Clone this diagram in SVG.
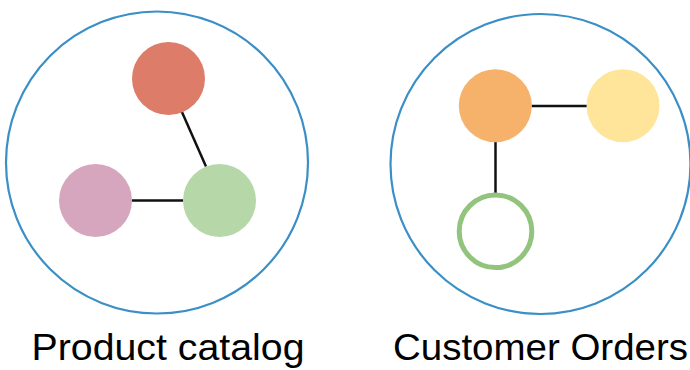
<svg xmlns="http://www.w3.org/2000/svg" width="690" height="370" viewBox="0 0 690 370">
<style>
.boundary{fill:none;stroke:#3a8fc7;stroke-width:2.2}
.edge{stroke:#111;stroke-width:2.5;fill:none}
.lbl{font-family:"Liberation Sans",Arial,sans-serif;font-size:37px;fill:#000}
</style>
<rect width="690" height="370" fill="#fff"/>
<g id="product-catalog">
<circle class="boundary" cx="157" cy="162.5" r="151"/>
<text class="lbl" x="31.5" y="360" textLength="273" lengthAdjust="spacingAndGlyphs">Product catalog</text>
</g>
<g id="customer-orders">
<circle class="boundary" cx="540.5" cy="164" r="150"/>
<text class="lbl" x="393" y="360" textLength="295" lengthAdjust="spacingAndGlyphs">Customer Orders</text>
</g>
<g id="connectors">
<line class="edge" x1="181.5" y1="111" x2="206" y2="166.5"/>
<line class="edge" x1="132" y1="200.5" x2="183" y2="200.5"/>
<line class="edge" x1="531.5" y1="106" x2="587" y2="106"/>
<line class="edge" x1="495.5" y1="142" x2="495.5" y2="193"/>
</g>
<g id="red-node"><circle cx="168.5" cy="78.5" r="36.5" fill="#dc7c69"/></g>
<g id="pink-node"><circle cx="95.5" cy="200.5" r="36.5" fill="#d5a6bd"/></g>
<g id="green-node"><circle cx="219.5" cy="200.5" r="36.5" fill="#b6d7a8"/></g>
<g id="orange-node"><circle cx="495.3" cy="105.7" r="36.5" fill="#f6b26b"/></g>
<g id="yellow-node"><circle cx="623" cy="105.7" r="36.5" fill="#ffe599"/></g>
<g id="green-ring-node"><circle cx="495.5" cy="231.3" r="36.3" fill="#fff" stroke="#93c47d" stroke-width="5"/></g>
</svg>
